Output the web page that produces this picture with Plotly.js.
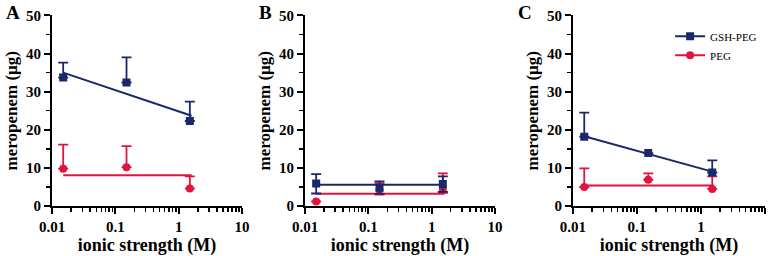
<!DOCTYPE html>
<html>
<head>
<meta charset="utf-8">
<script src="https://cdn.plot.ly/plotly-3.0.1.min.js"></script>
<style>
  body { margin: 0; background: #fff; }
  #plot { width: 772px; height: 256px; }
</style>
</head>
<body>
<div id="plot"></div>
<script>
// ionic strength (M)
var ionic = [0.015, 0.15, 1.5];
var fitX = [0.015, 1.6];

// panel A
var gshA = [33.7, 32.4, 22.3];
var gshA_err = [3.9, 6.6, 5.1];
var pegA = [9.8, 10.2, 4.6];
var pegA_err = [6.3, 5.5, 3.2];
var gshA_fit = [35.0, 23.7];
var pegA_fit = [8.1, 8.1];

// panel B
var gshB = [5.9, 4.8, 5.8];
var gshB_err = [2.5, 1.7, 2.0];
var gshB_errMinus = [2.6, 1.6, 2.1];
var pegB = [1.2, 4.2, 4.5];
var pegB_err = [0, 1.8, 4.1];
var pegB_errMinus = [0, 1.2, 1.0];
var gshB_fit = [5.6, 5.6];
var pegB_fit = [3.2, 3.2];

// panel C
var gshC = [18.2, 13.9, 8.8];
var gshC_err = [6.3, 0, 3.2];
var pegC = [5.0, 6.9, 4.5];
var pegC_err = [4.9, 1.7, 3.3];
var gshC_fit = [18.3, 8.9];
var pegC_fit = [5.4, 5.4];

var navy = "#17286b";
var red = "#e2133d";
var serif = "Liberation Serif, Times New Roman, serif";

function points(x, y, err, errMinus, color, symbol, ax) {
    return {
        x: x, y: y,
        mode: "markers",
        type: "scatter",
        xaxis: "x" + ax, yaxis: "y" + ax,
        showlegend: false,
        marker: {color: color, symbol: symbol, size: 8},
        error_y: {
            type: "data", symmetric: false,
            array: err,
            arrayminus: errMinus || err.map(function(e){ return 0; }),
            color: color, thickness: 1.8, width: 5
        }
    };
}

function fit(y, color, ax) {
    return {
        x: fitX, y: y,
        mode: "lines",
        type: "scatter",
        xaxis: "x" + ax, yaxis: "y" + ax,
        showlegend: false,
        line: {color: color, width: 2}
    };
}

function legendItem(name, color, symbol) {
    return {
        x: [null], y: [null],
        name: name,
        mode: "lines+markers",
        type: "scatter",
        xaxis: "x3", yaxis: "y3",
        marker: {color: color, symbol: symbol, size: 8},
        line: {color: color, width: 2}
    };
}

var data = [
    fit(gshA_fit, navy, ""), fit(pegA_fit, red, ""),
    points(ionic, pegA, pegA_err, null, red, "circle", ""),
    points(ionic, gshA, gshA_err, null, navy, "square", ""),

    fit(pegB_fit, red, "2"), fit(gshB_fit, navy, "2"),
    points(ionic, pegB, pegB_err, pegB_errMinus, red, "circle", "2"),
    points(ionic, gshB, gshB_err, gshB_errMinus, navy, "square", "2"),

    fit(gshC_fit, navy, "3"), fit(pegC_fit, red, "3"),
    points(ionic, pegC, pegC_err, null, red, "circle", "3"),
    points(ionic, gshC, gshC_err, null, navy, "square", "3"),

    legendItem("GSH-PEG", navy, "square"),
    legendItem("PEG", red, "circle")
];

var minorX = [];
[0.01, 0.1, 1].forEach(function(d){
    for (var k = 2; k <= 9; k++) minorX.push(d * k);
});

function xaxis(domain, anchor) {
    return {
        domain: domain, anchor: anchor,
        type: "log", range: [-2, 1],
        tickvals: [0.01, 0.1, 1, 10],
        ticktext: ["0.01", "0.1", "1", "10"],
        ticks: "outside", ticklen: 6, tickwidth: 2, tickcolor: "#000",
        minor: {tickvals: minorX, ticks: "outside", ticklen: 4, tickwidth: 1.5, tickcolor: "#000"},
        showline: true, linecolor: "#000", linewidth: 2,
        showgrid: false, zeroline: false,
        tickfont: {family: serif, size: 15, color: "#000", weight: "bold"},
        title: {text: "ionic strength (M)", standoff: 4,
                font: {family: serif, size: 18, color: "#000", weight: "bold"}}
    };
}

function yaxis(anchor) {
    return {
        domain: [0.195, 0.94], anchor: anchor,
        range: [0, 50],
        tickvals: [0, 10, 20, 30, 40, 50],
        ticks: "outside", ticklen: 6, tickwidth: 2, tickcolor: "#000",
        minor: {tickvals: [5, 15, 25, 35, 45], ticks: "outside", ticklen: 4, tickwidth: 1.5, tickcolor: "#000"},
        showline: true, linecolor: "#000", linewidth: 2,
        showgrid: false, zeroline: false,
        tickfont: {family: serif, size: 15, color: "#000", weight: "bold"},
        title: {text: "meropenem (\u00b5g)", standoff: 4,
                font: {family: serif, size: 17, color: "#000", weight: "bold"}}
    };
}

function letter(t, x) {
    return {
        text: t, xref: "paper", yref: "paper", x: x, y: 1.0,
        xanchor: "left", yanchor: "top", showarrow: false,
        font: {family: serif, size: 19, color: "#000", weight: "bold"}
    };
}

var layout = {
    width: 772, height: 256,
    margin: {l: 0, r: 0, t: 0, b: 0},
    paper_bgcolor: "#fff", plot_bgcolor: "#fff",
    xaxis: xaxis([0.0674, 0.3135], "y"),
    yaxis: yaxis("x"),
    xaxis2: xaxis([0.3951, 0.6412], "y2"),
    yaxis2: yaxis("x2"),
    xaxis3: xaxis([0.7422, 0.9909], "y3"),
    yaxis3: yaxis("x3"),
    legend: {
        x: 0.868, y: 0.915, xanchor: "left", yanchor: "top",
        bgcolor: "rgba(0,0,0,0)", tracegroupgap: 10, itemwidth: 30,
        font: {family: serif, size: 11, color: "#000"}
    },
    annotations: [letter("A", 0.005), letter("B", 0.333), letter("C", 0.668)]
};

Plotly.newPlot("plot", data, layout, {staticPlot: true});
</script>
</body>
</html>
